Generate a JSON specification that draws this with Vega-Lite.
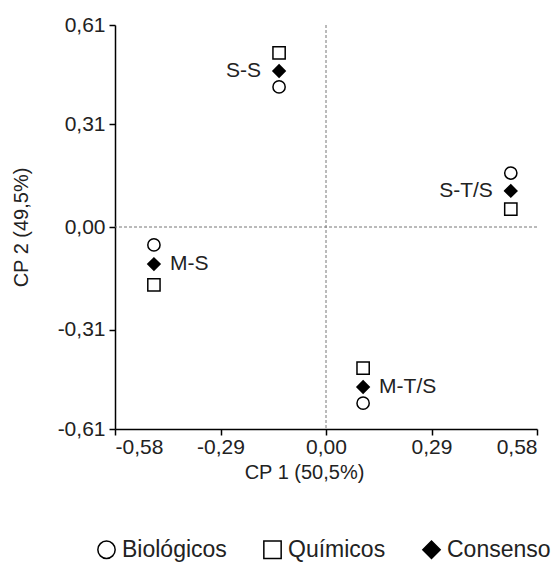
{
  "$schema": "https://vega.github.io/schema/vega-lite/v6.json",
  "autosize": "none",
  "width": 422,
  "height": 404,
  "padding": {"left": 115, "top": 25, "right": 20, "bottom": 134},
  "background": "white",
  "config": {
    "font": "Liberation Sans",
    "view": {"stroke": null},
    "axis": {"grid": false, "domainColor": "black", "tickColor": "black", "domainWidth": 1.5, "tickWidth": 1.5, "tickSize": 6, "labelFontSize": 21, "labelColor": "#222", "titleFontSize": 20, "titleFontWeight": "normal", "titleColor": "#222", "labelFont": "Liberation Sans", "titleFont": "Liberation Sans"},
    "legend": {"orient": "none", "direction": "horizontal", "legendX": -20, "legendY": 513, "labelFontSize": 23, "labelColor": "#222", "labelFont": "Liberation Sans", "symbolSize": 300, "symbolStrokeWidth": 1.5, "columnPadding": 33, "labelOffset": 4}
  },
  "datasets": {
    "pts": [
      {"site": "S-S", "group": "Químicos", "x": -0.129, "y": 0.526},
      {"site": "S-S", "group": "Consenso", "x": -0.129, "y": 0.471},
      {"site": "S-S", "group": "Biológicos", "x": -0.129, "y": 0.423},
      {"site": "S-T/S", "group": "Biológicos", "x": 0.508, "y": 0.163},
      {"site": "S-T/S", "group": "Consenso", "x": 0.508, "y": 0.109},
      {"site": "S-T/S", "group": "Químicos", "x": 0.508, "y": 0.054},
      {"site": "M-S", "group": "Biológicos", "x": -0.473, "y": -0.054},
      {"site": "M-S", "group": "Consenso", "x": -0.473, "y": -0.112},
      {"site": "M-S", "group": "Químicos", "x": -0.473, "y": -0.175},
      {"site": "M-T/S", "group": "Químicos", "x": 0.102, "y": -0.426},
      {"site": "M-T/S", "group": "Consenso", "x": 0.102, "y": -0.483},
      {"site": "M-T/S", "group": "Biológicos", "x": 0.102, "y": -0.532}
    ],
    "zero": [{"v": 0}]
  },
  "layer": [
    {
      "data": {"name": "zero"},
      "mark": {"type": "rule", "color": "#777", "strokeDash": [3, 2], "strokeWidth": 1},
      "encoding": {"x": {"field": "v", "type": "quantitative"}}
    },
    {
      "data": {"name": "zero"},
      "mark": {"type": "rule", "color": "#777", "strokeDash": [3, 2], "strokeWidth": 1},
      "encoding": {"y": {"field": "v", "type": "quantitative"}}
    },
    {
      "data": {"name": "pts"},
      "mark": {"type": "point", "filled": true, "strokeWidth": 1.5, "size": 150, "opacity": 1},
      "encoding": {
        "x": {"field": "x", "type": "quantitative", "scale": {"domain": [-0.58, 0.58], "nice": false, "zero": false},
          "axis": {"values": [-0.58, -0.29, 0, 0.29, 0.58], "labelExpr": "replace(replace(format(datum.value, '.2f'), '.', ','), '−', '-')", "title": "CP 1 (50,5%)", "titlePadding": 5, "titleX": 189, "labelPadding": 1}},
        "y": {"field": "y", "type": "quantitative", "scale": {"domain": [-0.61, 0.61], "nice": false, "zero": false},
          "axis": {"values": [-0.61, -0.31, 0, 0.31, 0.61], "labelExpr": "replace(replace(format(datum.value, '.2f'), '.', ','), '−', '-')", "title": "CP 2 (49,5%)", "titlePadding": 26, "labelPadding": 4}},
        "shape": {"field": "group", "type": "nominal", "scale": {"domain": ["Biológicos", "Químicos", "Consenso"], "range": ["circle", "square", "diamond"]},
          "legend": {"title": null}},
        "fill": {"field": "group", "type": "nominal", "scale": {"domain": ["Biológicos", "Químicos", "Consenso"], "range": ["white", "white", "black"]},
          "legend": {"title": null}},
        "stroke": {"field": "group", "type": "nominal", "scale": {"domain": ["Biológicos", "Químicos", "Consenso"], "range": ["black", "black", "black"]},
          "legend": {"title": null}}
      }
    },
    {
      "data": {"name": "pts"},
      "transform": [{"filter": "datum.group == 'Consenso' && (datum.site == 'S-S' || datum.site == 'S-T/S')"}],
      "mark": {"type": "text", "align": "right", "baseline": "middle", "dx": -18, "fontSize": 21, "color": "#222"},
      "encoding": {"x": {"field": "x", "type": "quantitative"}, "y": {"field": "y", "type": "quantitative"}, "text": {"field": "site"}}
    },
    {
      "data": {"name": "pts"},
      "transform": [{"filter": "datum.group == 'Consenso' && (datum.site == 'M-S' || datum.site == 'M-T/S')"}],
      "mark": {"type": "text", "align": "left", "baseline": "middle", "dx": 16, "fontSize": 21, "color": "#222"},
      "encoding": {"x": {"field": "x", "type": "quantitative"}, "y": {"field": "y", "type": "quantitative"}, "text": {"field": "site"}}
    }
  ]
}
